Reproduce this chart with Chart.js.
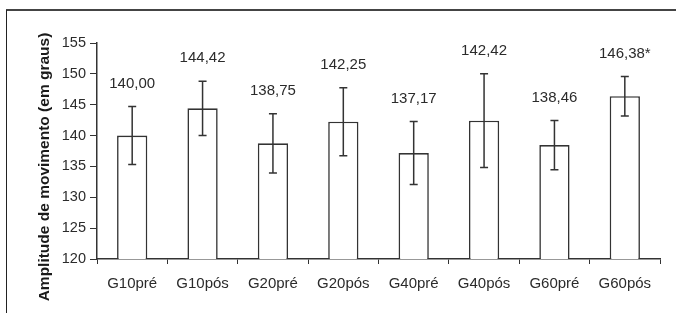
<!DOCTYPE html>
<html>
<head>
<meta charset="utf-8">
<script src="https://cdn.jsdelivr.net/npm/chart.js@4.4.1/dist/chart.umd.min.js"></script>
<style>
  body { margin: 0; background: #fff; }
  canvas { display: block; }
</style>
</head>
<body>
<canvas id="grafico" width="676" height="313"></canvas>
<script>
// dados
var grupos = ['G10pré', 'G10pós', 'G20pré', 'G20pós', 'G40pré', 'G40pós', 'G60pré', 'G60pós'];
var medias = [140.00, 144.42, 138.75, 142.25, 137.17, 142.42, 138.46, 146.38];
var desvios = [4.7, 4.4, 4.8, 5.5, 5.1, 7.6, 4.0, 3.2];
var marcas = ['', '', '', '', '', '', '', '*'];
var tituloY = 'Amplitude de movimento (em graus)';

var corTexto = '#2b2b2b';
var fonte = '"Liberation Sans", Arial, sans-serif';

// moldura, barras de erro, rotulos de valor e titulo do eixo
var extras = {
  id: 'extras',
  beforeDraw: function(chart){
    var ctx = chart.ctx;
    ctx.save();
    ctx.fillStyle = '#fff';
    ctx.fillRect(0, 0, chart.width, chart.height);
    ctx.restore();
  },
  afterDraw: function(chart){
    var ctx = chart.ctx;
    var y = chart.scales.y;
    var meta = chart.getDatasetMeta(0);
    ctx.save();

    // moldura
    ctx.strokeStyle = '#444';
    ctx.lineWidth = 2;
    ctx.beginPath();
    ctx.moveTo(6, 10);
    ctx.lineTo(chart.width, 10);
    ctx.stroke();
    ctx.strokeStyle = '#222';
    ctx.lineWidth = 1;
    ctx.beginPath();
    ctx.moveTo(6.5, 10);
    ctx.lineTo(6.5, chart.height);
    ctx.stroke();

    // barras de erro
    ctx.strokeStyle = '#333';
    ctx.lineWidth = 1.5;
    for (var i = 0; i < medias.length; i++) {
      var x = meta.data[i].x;
      var yTop = y.getPixelForValue(medias[i] + desvios[i]);
      var yBot = y.getPixelForValue(medias[i] - desvios[i]);
      ctx.beginPath();
      ctx.moveTo(x, yTop); ctx.lineTo(x, yBot);
      ctx.moveTo(x - 4, yTop); ctx.lineTo(x + 4, yTop);
      ctx.moveTo(x - 4, yBot); ctx.lineTo(x + 4, yBot);
      ctx.stroke();

      ctx.fillStyle = corTexto;
      ctx.font = '15px ' + fonte;
      ctx.textAlign = 'center';
      ctx.textBaseline = 'middle';
      ctx.fillText(medias[i].toFixed(2).replace('.', ',') + marcas[i], x, yTop - 23);
    }

    // titulo do eixo y
    ctx.translate(45, 167);
    ctx.rotate(-Math.PI / 2);
    ctx.font = 'bold 15.5px ' + fonte;
    ctx.fillStyle = '#1a1a1a';
    ctx.textAlign = 'center';
    ctx.textBaseline = 'middle';
    ctx.fillText(tituloY, 0, 0);
    ctx.restore();
  }
};

var ctx = document.getElementById('grafico').getContext('2d');
var myChart = new Chart(ctx, {
  type: 'bar',
  data: {
    labels: grupos,
    datasets: [{
      data: medias,
      backgroundColor: '#fff',
      borderColor: '#333',
      borderWidth: 1.6,
      barPercentage: 0.43,
      categoryPercentage: 1
    }]
  },
  options: {
    responsive: false,
    animation: false,
    devicePixelRatio: 1,
    layout: { padding: { left: 6, right: 16, top: 43, bottom: 0 } },
    plugins: {
      legend: { display: false },
      tooltip: { enabled: false }
    },
    scales: {
      x: {
        grid: { drawOnChartArea: false, tickLength: 5, color: '#333', offset: true },
        border: { color: '#333', width: 1.5 },
        ticks: { font: { size: 15, family: fonte }, color: corTexto, padding: 11 },
        afterFit: function(s){ s.height = 54; }
      },
      y: {
        min: 120,
        max: 155,
        grid: { drawOnChartArea: false, tickLength: 7, color: '#333' },
        border: { color: '#333', width: 1.5 },
        ticks: { stepSize: 5, font: { size: 14.5, family: fonte }, color: corTexto, padding: 4 },
        afterFit: function(s){ s.width = 91; }
      }
    }
  },
  plugins: [extras]
});
</script>
</body>
</html>
